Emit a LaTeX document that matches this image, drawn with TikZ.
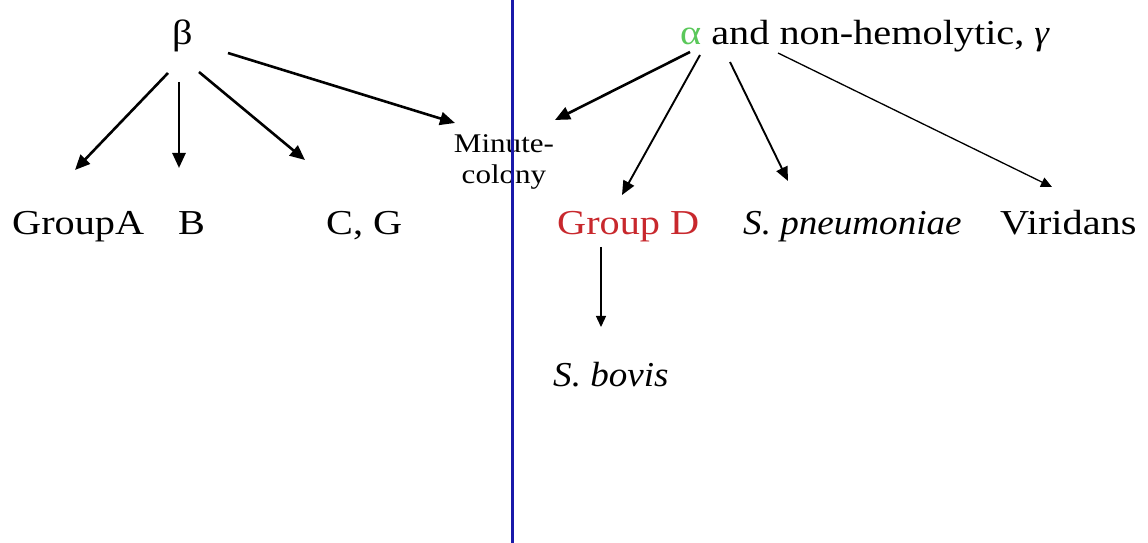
\documentclass[tikz,border=0pt]{standalone}
\usepackage{fontspec}
\setmainfont[FakeStretch=1.15]{Liberation Serif}
\newfontfamily\itser[FakeStretch=1.06]{Liberation Serif}
\usetikzlibrary{arrows.meta}
\definecolor{divblue}{RGB}{25,25,170}
\definecolor{grpred}{RGB}{200,40,45}
\definecolor{alphagreen}{RGB}{90,200,90}
\tikzset{
  lbl/.style={inner sep=0pt, anchor=base west, font=\fontsize{35bp}{40bp}\selectfont},
  small/.style={inner sep=0pt, align=center, font=\fontsize{27bp}{31bp}\selectfont},
  heavy/.style={line width=2.6bp, -{Triangle[length=15bp,width=13bp]}},
  medium/.style={line width=1.9bp, -{Triangle[length=14bp,width=12bp]}},
  light/.style={line width=1.3bp, -{Triangle[length=11bp,width=10bp]}},
}
\begin{document}
\begin{tikzpicture}[x=1bp,y=-1bp]
\useasboundingbox (0,0) rectangle (1148,543);
% nodes
\node[lbl] (beta) at (172,45) {β};
\node[lbl] (alphahdr) at (680,45) {{\color{alphagreen}α} and non-hemolytic, {\itser\itshape γ}};
\node[lbl] (groupA) at (12,235) {GroupA};
\node[lbl] (B) at (178,235) {B};
\node[lbl] (CG) at (326,235) {C, G};
\node[small] (minute) at (504,162) {Minute-\\colony};
\node[lbl, text=grpred] (groupD) at (557,235) {Group D};
\node[lbl] (pneumo) at (743,235) {\itser\itshape S. pneumoniae};
\node[lbl] (viridans) at (1000,235) {Viridans};
\node[lbl] (bovis) at (553,387) {\itser\itshape S. bovis};
% connectors from beta
\draw[heavy] ([shift={(-4,28)}]beta.base west) -- ([shift={(63,-65)}]groupA.base west);
\draw[heavy] ([shift={(7,37)}]beta.base west) -- ([shift={(1,-67)}]B.base west);
\draw[heavy] ([shift={(27,27)}]beta.base west) -- ([shift={(-21,-75)}]CG.base west);
\draw[heavy] ([shift={(56,8)}]beta.base west) -- ([shift={(-49,-39)}]minute.center);
% connectors from alpha
\draw[heavy] ([shift={(10,7)}]alphahdr.base west) -- ([shift={(51,-42)}]minute.center);
\draw[medium] ([shift={(20,10)}]alphahdr.base west) -- ([shift={(65,-40)}]groupD.base west);
\draw[medium] ([shift={(50,17)}]alphahdr.base west) -- ([shift={(45,-54)}]pneumo.base west);
\draw[light] ([shift={(98,8)}]alphahdr.base west) -- ([shift={(52,-48)}]viridans.base west);
% Group D to S. bovis
\draw[light] ([shift={(44,12)}]groupD.base west) -- ([shift={(48,-60)}]bovis.base west);
% dividing line
\coordinate (vtop) at (512,0);
\coordinate (vbot) at (512,543);
\draw[divblue, line width=3bp] (vtop) -- (vbot);
\end{tikzpicture}
\end{document}
